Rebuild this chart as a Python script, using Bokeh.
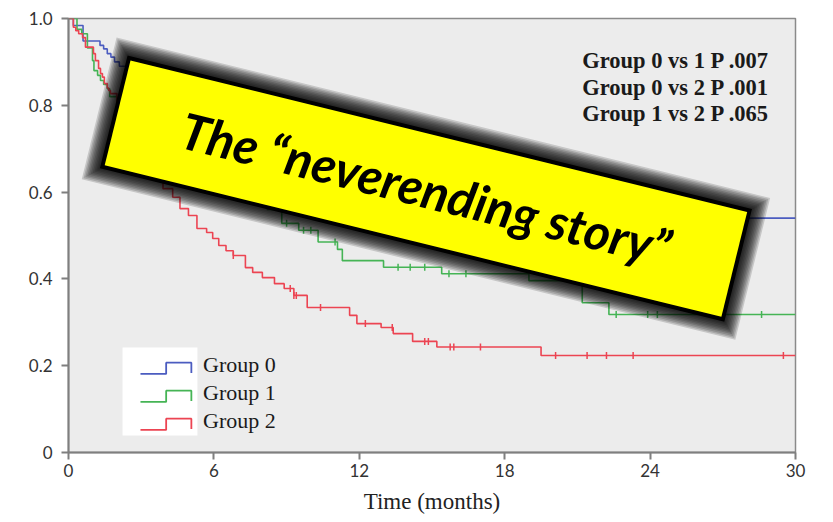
import numpy as np
from bokeh.plotting import figure
from bokeh.models import Range1d, FixedTicker
from bokeh.core.properties import value
from bokeh.embed import file_html
from bokeh.resources import INLINE

# ---------------- data ----------------
x_ticks = [0, 6, 12, 18, 24, 30]
y_ticks = [0, 0.2, 0.4, 0.6, 0.8, 1.0]
y_tick_labels = ["0", "0.2", "0.4", "0.6", "0.8", "1.0"]
x_label = "Time (months)"

groups = ["Group 0", "Group 1", "Group 2"]
colors = ["#4b5cc0", "#45b455", "#ec4452"]

# Kaplan-Meier steps (event time, survival after the event)
g0_time = [0, 0.2, 0.6, 1.3, 1.45, 1.6, 1.75, 1.9, 2.1, 2.5, 3.2, 4.0, 5.0, 6.0,
           7.0, 8.0, 9.5, 11.0, 12.5, 14.0, 16.0, 18.0, 20.0]
g0_surv = [1.0, 0.984, 0.948, 0.938, 0.93, 0.919, 0.911, 0.90, 0.89, 0.87, 0.85,
           0.83, 0.80, 0.77, 0.74, 0.71, 0.68, 0.65, 0.62, 0.60, 0.58, 0.56, 0.54]
g0_censored = []

g1_time = [0, 0.35, 0.55, 0.78, 0.99, 1.05, 1.2, 1.32, 1.45, 1.6, 1.7, 2.0, 2.6,
           3.3, 4.2, 5.0, 6.0, 7.0, 8.2, 8.8, 9.5, 10.3, 11.1, 11.3, 13.0, 15.4,
           19.0, 21.2, 22.3]
g1_surv = [1.0, 0.975, 0.965, 0.932, 0.903, 0.88, 0.869, 0.857, 0.848, 0.838,
           0.82, 0.80, 0.76, 0.72, 0.68, 0.65, 0.62, 0.59, 0.56, 0.528, 0.512,
           0.485, 0.468, 0.442, 0.427, 0.412, 0.396, 0.345, 0.318]
g1_censored = [9.0, 9.7, 10.0, 11.0, 13.6, 14.1, 14.7, 15.7, 16.4, 22.6, 23.9,
               24.3, 28.6]

g2_time = [0, 0.2, 0.3, 0.42, 0.58, 0.7, 1.03, 1.11, 1.24, 1.32, 1.4, 1.48, 1.6,
           1.66, 1.73, 2.0, 2.4, 2.9, 3.3, 3.6, 3.9, 4.3, 4.6, 4.95, 5.3, 5.7,
           5.95, 6.2, 6.5, 6.8, 7.3, 7.6, 8.0, 8.5, 8.9, 9.3, 9.85, 11.6, 11.9,
           12.9, 13.4, 14.2, 15.2, 19.5]
g2_surv = [1.0, 0.98, 0.972, 0.965, 0.956, 0.934, 0.919, 0.903, 0.885, 0.873,
           0.865, 0.85, 0.84, 0.834, 0.827, 0.80, 0.76, 0.72, 0.68, 0.64, 0.608,
           0.588, 0.562, 0.546, 0.516, 0.507, 0.493, 0.477, 0.465, 0.454, 0.426,
           0.415, 0.403, 0.389, 0.378, 0.362, 0.334, 0.316, 0.297, 0.288, 0.274,
           0.256, 0.243, 0.2235]
g2_censored = [6.8, 9.15, 9.3, 9.4, 10.4, 12.25, 13.36, 14.7, 14.85, 15.75, 15.9,
               17.0, 20.1, 21.4, 22.2, 23.3, 29.5]

comparisons = ["Group 0 vs 1 P .007", "Group 0 vs 2 P .001", "Group 1 vs 2 P .065"]
banner_text = "The \u201cneverending story\u201d"

# ---------------- layout constants ----------------
X_MAX = 30
W, H = 825, 522
B_LEFT, B_RIGHT, B_TOP, B_BOTTOM = 68, 30, 18, 70

p = figure(width=W, height=H, x_range=Range1d(0, X_MAX), y_range=Range1d(0, 1.0),
           output_backend="svg", toolbar_location=None,
           min_border_left=B_LEFT, min_border_right=B_RIGHT,
           min_border_top=B_TOP, min_border_bottom=B_BOTTOM)
p.background_fill_color = "#ececec"
p.border_fill_color = "white"
p.outline_line_color = "#8a8a8a"
p.outline_line_width = 1.5
p.grid.visible = False

for ax in (p.xaxis[0], p.yaxis[0]):
    ax.axis_line_color = "#7f7f7f"
    ax.axis_line_width = 2
    ax.major_tick_line_color = "#7f7f7f"
    ax.major_tick_line_width = 2
    ax.major_tick_out = 7
    ax.major_tick_in = 0
    ax.minor_tick_line_color = None
    ax.major_label_text_font = "Lato"
    ax.major_label_text_font_size = "17px"
    ax.major_label_text_color = "#333333"

p.xaxis.ticker = FixedTicker(ticks=x_ticks)
p.yaxis.ticker = FixedTicker(ticks=y_ticks)
p.yaxis.major_label_overrides = dict(zip(y_ticks, y_tick_labels))
p.xaxis.major_label_standoff = 4
p.yaxis.major_label_standoff = 9
p.xaxis.axis_label = x_label
p.xaxis.axis_label_text_font = "Liberation Serif"
p.xaxis.axis_label_text_font_style = "normal"
p.xaxis.axis_label_text_font_size = "23px"
p.xaxis.axis_label_text_color = "#222222"
p.xaxis.axis_label_standoff = 9

# ---------------- curves ----------------
def surv_at(times, survs, t):
    idx = np.searchsorted(np.asarray(times), np.asarray(t, dtype=float), side="right") - 1
    return np.asarray(survs)[idx]

series = [(g0_time, g0_surv, g0_censored),
          (g1_time, g1_surv, g1_censored),
          (g2_time, g2_surv, g2_censored)]

for (t, s, c), col in zip(series, colors):
    tt = list(t) + [X_MAX]
    ss = list(s) + [s[-1]]
    p.step(tt, ss, mode="after", line_color=col, line_width=1.6)
    if c:
        p.scatter(c, surv_at(t, s, c), marker="dash", angle=np.pi / 2, size=7,
                  line_color=col, line_width=1.5)

# ---------------- legend (manual, step icons) ----------------
LEG_LEFT, LEG_RIGHT, LEG_TOP, LEG_BOTTOM = 2.23, 5.32, 0.242, 0.039
ICON_X = [2.97, 4.03, 4.03, 5.07, 5.07]
ROW0_LOW, ROW_STEP, ICON_RISE, ICON_DROP = 0.181, 0.0645, 0.026, 0.024
TEXT_X, TEXT0_Y = 5.55, 0.203

p.quad(left=[LEG_LEFT], right=[LEG_RIGHT], top=[LEG_TOP], bottom=[LEG_BOTTOM],
       fill_color="white", line_color=None)
for i, (g, col) in enumerate(zip(groups, colors)):
    low = ROW0_LOW - i * ROW_STEP
    ys = [low, low, low + ICON_RISE, low + ICON_RISE, low + ICON_RISE - ICON_DROP]
    p.line(ICON_X, ys, line_color=col, line_width=1.8)
p.text(x=[TEXT_X] * len(groups), y=[TEXT0_Y - i * ROW_STEP for i in range(len(groups))],
       text=groups, text_font=value("Liberation Serif"), text_font_size=value("22px"),
       text_color="#1a1a1a", text_baseline="middle", text_align="left")

# ---------------- comparison annotation ----------------
CMP_X, CMP_Y0, CMP_DY = 21.2, 0.903, 0.061
p.text(x=[CMP_X] * len(comparisons), y=[CMP_Y0 - i * CMP_DY for i in range(len(comparisons))],
       text=comparisons, text_font=value("Liberation Serif"), text_font_size=value("22.5px"),
       text_font_style=value("bold"), text_color="#1a1a1a",
       text_baseline="middle", text_align="left")

# ---------------- banner ----------------
BAN_X, BAN_Y = 14.75, 0.608
BAN_W, BAN_H = 635, 108
BAN_ANGLE = -np.deg2rad(13.8)
for k in range(10, 0, -1):
    ext = 8 + 3 * k
    p.rect(x=[BAN_X], y=[BAN_Y], width=[BAN_W + ext], height=[BAN_H + ext],
           angle=BAN_ANGLE, width_units="screen", height_units="screen",
           fill_color="black", fill_alpha=0.16, line_color=None)
p.rect(x=[BAN_X], y=[BAN_Y], width=[BAN_W + 8], height=[BAN_H + 8],
       angle=BAN_ANGLE, width_units="screen", height_units="screen",
       fill_color="black", fill_alpha=1.0, line_color=None)
p.rect(x=[BAN_X], y=[BAN_Y], width=[BAN_W], height=[BAN_H],
       angle=BAN_ANGLE, width_units="screen", height_units="screen",
       fill_color="#ffff00", line_color=None)
p.text(x=[BAN_X], y=[BAN_Y], text=[banner_text], angle=BAN_ANGLE,
       text_font=value("Lato"), text_font_style=value("bold italic"),
       text_font_size=value("50px"), text_color="black",
       text_align="center", text_baseline="middle")

open("out.html", "w").write(file_html(p, INLINE))
